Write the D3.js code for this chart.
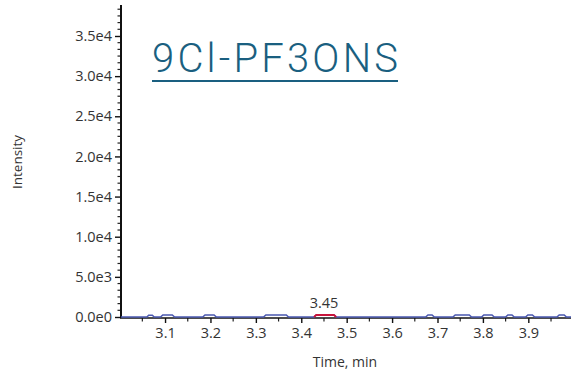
<!DOCTYPE html>
<html><head><meta charset="utf-8">
<script src="https://cdn.jsdelivr.net/npm/d3@7"></script>
<style>body{margin:0;background:#fff}svg{display:block}</style>
</head><body><svg id="c" width="571" height="375"></svg>
<script>
const title = "9Cl-PF3ONS";
const xLabel = "Time, min";
const yLabel = "Intensity";
const xTicks = [3.1,3.2,3.3,3.4,3.5,3.6,3.7,3.8,3.9];
const yTicks = [0,5000,10000,15000,20000,25000,30000,35000];
const yTickLabels = ["0.0e0","5.0e3","1.0e4","1.5e4","2.0e4","2.5e4","3.0e4","3.5e4"];
const times = [3.003,3.060,3.064,3.072,3.076,3.090,3.095,3.116,3.121,3.183,3.188,3.208,3.213,3.317,3.322,3.367,3.372,3.428,3.433,3.472,3.477,3.674,3.679,3.688,3.693,3.734,3.739,3.770,3.775,3.797,3.802,3.820,3.825,3.850,3.855,3.864,3.869,3.894,3.899,3.909,3.914,3.963,3.968,3.979,3.984,3.994];
const intens = [0,0,220,220,0,0,250,250,0,0,250,250,0,0,250,250,0,0,250,250,0,0,250,250,0,0,250,250,0,0,250,250,0,0,250,250,0,0,250,250,0,0,250,250,0,0];
const peakTimes = [3.428,3.433,3.472,3.477];
const peakIntens = [0,250,250,0];
const peakLabel = "3.45";
const peakApex = 3.45;

const svg = d3.select("#c");
const x = d3.scaleLinear().domain([3.003,3.994]).range([121,571]);
const y = d3.scaleLinear().domain([0,38860]).range([317,5]);
const font = "'Open Sans', sans-serif";

// minor ticks
const yMinor = d3.range(0, 38860, 5000/6).filter(v => Math.abs(v/5000 - Math.round(v/5000)) > 1e-6);
svg.append("g").selectAll("line").data(yMinor).join("line")
  .attr("x1",117.5).attr("x2",121).attr("y1",d=>y(d)).attr("y2",d=>y(d))
  .attr("stroke","#222").attr("stroke-width",1.2);
const xMinor = d3.range(3.05,3.994,0.1);
svg.append("g").selectAll("line").data(xMinor).join("line")
  .attr("x1",d=>x(d)).attr("x2",d=>x(d)).attr("y1",318).attr("y2",321.5)
  .attr("stroke","#222").attr("stroke-width",1.2);

// axes
const yAxis = d3.axisLeft(y).tickValues(yTicks).tickFormat((d,i)=>yTickLabels[i]).tickSize(6).tickPadding(3);
const gy = svg.append("g").attr("transform","translate(121,0)").call(yAxis);
gy.select(".domain").attr("stroke","#111").attr("stroke-width",2).attr("d","M0,5V318");
gy.selectAll(".tick line").attr("stroke","#111").attr("stroke-width",1.4);
gy.selectAll(".tick text").attr("font-family",font).attr("font-size",14.5).attr("fill","#333");

const xAxis = d3.axisBottom(x).tickValues(xTicks).tickFormat(d3.format(".1f")).tickSize(5).tickPadding(5);
const gx = svg.append("g").attr("transform","translate(0,318)").call(xAxis);
gx.select(".domain").attr("stroke","#111").attr("stroke-width",1.6).attr("d","M120,0H571");
gx.selectAll(".tick line").attr("stroke","#111").attr("stroke-width",1.4);
gx.selectAll(".tick text").attr("font-family",font).attr("font-size",14.5).attr("fill","#333");

// data line
const line = d3.line().x((d,i)=>x(d[0])).y(d=>y(d[1]));
svg.append("path").datum(times.map((t,i)=>[t,intens[i]]))
  .attr("d",line).attr("fill","none").attr("stroke","#4a58b0").attr("stroke-width",1.6);
svg.append("path").datum(peakTimes.map((t,i)=>[t,peakIntens[i]]))
  .attr("d",line).attr("fill","none").attr("stroke","#c8143c").attr("stroke-width",1.8);
svg.append("text").attr("x",x(peakApex)).attr("y",308).attr("text-anchor","middle")
  .attr("font-family",font).attr("font-size",14.5).attr("fill","#333").text(peakLabel);

// axis labels
svg.append("text").attr("x",345).attr("y",367).attr("text-anchor","middle")
  .attr("font-family",font).attr("font-size",14).attr("fill","#333").text(xLabel);
svg.append("text").attr("transform","translate(22,162) rotate(-90)").attr("text-anchor","middle")
  .attr("font-family",font).attr("font-size",13.5).attr("fill","#333").text(yLabel);

// title
svg.append("text").attr("x",152).attr("y",72).attr("font-family","Roboto, sans-serif").attr("font-weight",300)
  .attr("font-size",40).attr("fill","#1a5f80").attr("textLength",246).attr("lengthAdjust","spacing").text(title);
svg.append("line").attr("x1",152).attr("x2",398).attr("y1",81).attr("y2",81).attr("stroke","#1a5f80").attr("stroke-width",2);
</script></body></html>
